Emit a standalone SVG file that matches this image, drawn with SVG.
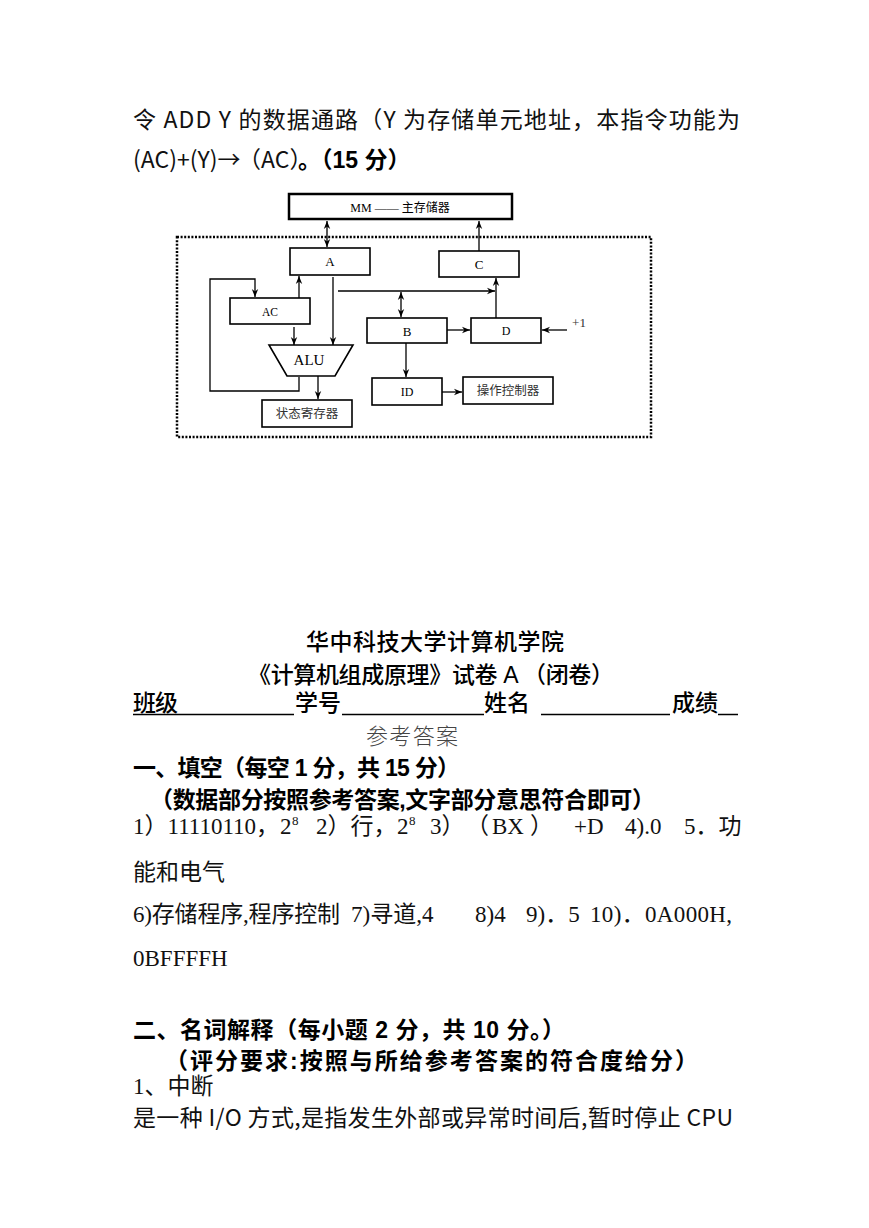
<svg xmlns="http://www.w3.org/2000/svg" width="869" height="1228" viewBox="0 0 869 1228">
<style>
.bg{fill:#fff}
.cj{font-family:"Noto Sans CJK SC",sans-serif;font-size:23px;fill:#111}
.sr{font-family:"Liberation Serif","Noto Sans CJK SC",serif;font-size:23px;fill:#111}
.sup{font-family:"Liberation Serif",serif;font-size:13px;fill:#111}
.bd{font-family:"Liberation Sans","Noto Sans CJK SC",sans-serif;font-size:23px;font-weight:bold;fill:#000}
.md{font-family:"Liberation Sans","Noto Sans CJK SC",sans-serif;font-size:23px;font-weight:500;fill:#000}
.box{fill:#fff;stroke:#000;stroke-width:1.6}
.lbl{font-family:"Liberation Serif","Noto Sans CJK SC",serif;fill:#000;text-anchor:middle}
.glbl{font-family:"Liberation Serif","Noto Sans CJK SC",serif;fill:#333;text-anchor:middle}
.c line,.c polyline{stroke:#000;stroke-width:1.3;fill:none}
.ul{stroke:#000;stroke-width:1.5}
</style>
<defs>
<marker id="ah" viewBox="0 0 10 10" refX="10" refY="5" markerWidth="8" markerHeight="8" markerUnits="userSpaceOnUse" orient="auto-start-reverse">
<path d="M0,1 L10,5 L0,9 L3,5 z" fill="#000"/>
</marker>
</defs>
<rect class="bg" x="0" y="0" width="869" height="1228"/>

<g id="question">
<text class="cj" x="133" y="128" textLength="607" lengthAdjust="spacing">令 ADD Y 的数据通路（Y 为存储单元地址，本指令功能为</text>
<text class="cj" x="133" y="168" font-size="20">(AC)+(Y)→</text>
<text class="cj" x="238" y="168" font-size="18">（AC）</text>
<text class="bd" x="298" y="168" font-size="21">。（15 分）</text>
</g>

<g id="frame">
<rect x="177" y="237" width="474" height="200" fill="none" stroke="#000" stroke-width="2.5" stroke-dasharray="2 1.6"/>
</g>

<g id="node-MM">
<rect x="289" y="194" width="223" height="25" fill="#fff" stroke="#000" stroke-width="2.5"/>
<text class="lbl" x="400" y="212" font-size="12">MM —— 主存储器</text>
</g>
<g id="node-A"><rect class="box" x="290" y="248" width="80" height="27"/><text class="lbl" x="330" y="266" font-size="13">A</text></g>
<g id="node-C"><rect class="box" x="439" y="251" width="80" height="26"/><text class="lbl" x="479" y="269" font-size="13">C</text></g>
<g id="node-AC"><rect class="box" x="230" y="298" width="80" height="26"/><text class="lbl" x="270" y="316" font-size="11.5">AC</text></g>
<g id="node-B"><rect class="box" x="367" y="318" width="80" height="25"/><text class="lbl" x="407" y="336" font-size="13">B</text></g>
<g id="node-D"><rect class="box" x="471" y="318" width="70" height="25"/><text class="lbl" x="506" y="335" font-size="12">D</text></g>
<g id="node-ALU"><polygon class="box" points="269,345 353,345 335,376 287,376"/><text class="lbl" x="309" y="365" font-size="15">ALU</text></g>
<g id="node-status"><rect class="box" x="262" y="400" width="90" height="27"/><text class="glbl" x="307" y="418" font-size="12.5">状态寄存器</text></g>
<g id="node-ID"><rect class="box" x="372" y="378" width="70" height="27"/><text class="lbl" x="407" y="396" font-size="12">ID</text></g>
<g id="node-ctrl"><rect class="box" x="463" y="377" width="90" height="27"/><text class="glbl" x="508" y="395" font-size="12.5">操作控制器</text></g>
<g id="label-plus1"><text class="glbl" x="579" y="327" font-size="13">+1</text></g>

<g id="connectors" class="c">
<line x1="327" y1="221" x2="327" y2="247" marker-start="url(#ah)" marker-end="url(#ah)"/>
<line x1="479" y1="251" x2="479" y2="221" marker-end="url(#ah)"/>
<line x1="299" y1="298" x2="299" y2="276" marker-end="url(#ah)"/>
<polyline points="299,377 299,391 210,391 210,279 255,279 255,297" marker-end="url(#ah)"/>
<line x1="294" y1="327" x2="294" y2="345" marker-end="url(#ah)"/>
<line x1="333" y1="277" x2="333" y2="345" marker-end="url(#ah)"/>
<line x1="338" y1="291" x2="495" y2="291" marker-end="url(#ah)"/>
<line x1="401" y1="292" x2="401" y2="317" marker-start="url(#ah)" marker-end="url(#ah)"/>
<line x1="496" y1="318" x2="496" y2="278" marker-end="url(#ah)"/>
<line x1="447" y1="330" x2="470" y2="330" marker-end="url(#ah)"/>
<line x1="567" y1="330" x2="542" y2="330" marker-end="url(#ah)"/>
<line x1="406" y1="343" x2="406" y2="377" marker-end="url(#ah)"/>
<line x1="442" y1="392" x2="462" y2="392" marker-end="url(#ah)"/>
<line x1="318" y1="376" x2="318" y2="399" marker-end="url(#ah)"/>
</g>

<g id="answers">
<text class="md" x="435" y="650" text-anchor="middle" textLength="258" lengthAdjust="spacing">华中科技大学计算机学院</text>
<text class="md" x="248" y="683" textLength="366" lengthAdjust="spacing">《计算机组成原理》试卷 A （闭卷）</text>
<text class="md" x="133" y="711" textLength="45" lengthAdjust="spacing">班级</text>
<text class="md" x="295" y="711" textLength="46" lengthAdjust="spacing">学号</text>
<text class="md" x="484" y="711" textLength="46" lengthAdjust="spacing">姓名</text>
<text class="md" x="672" y="711" textLength="46" lengthAdjust="spacing">成绩</text>
<line class="ul" x1="133" y1="714.5" x2="294" y2="714.5"/>
<line class="ul" x1="342" y1="714.5" x2="484" y2="714.5"/>
<line class="ul" x1="541" y1="714.5" x2="670" y2="714.5"/>
<line class="ul" x1="718" y1="714.5" x2="738" y2="714.5"/>
<text x="366" y="744" font-family="Noto Sans CJK SC,sans-serif" font-size="22" font-weight="300" fill="#444" textLength="92" lengthAdjust="spacing">参考答案</text>
<text class="bd" x="133" y="776" textLength="327" lengthAdjust="spacing">一、填空（每空 1 分，共 15 分）</text>
<text class="bd" x="150" y="808" textLength="505" lengthAdjust="spacing">（数据部分按照参考答案,文字部分意思符合即可）</text>
<text class="sr" x="133" y="834">1）11110110，</text>
<text class="sr" x="280" y="834">2</text>
<text class="sup" x="292" y="825">8</text>
<text class="sr" x="316" y="834" font-size="22">2）行，</text>
<text class="sr" x="397" y="834">2</text>
<text class="sup" x="409" y="825">8</text>
<text class="sr" x="430" y="834">3）</text>
<text class="sr" x="466" y="834">（</text>
<text class="sr" x="492" y="834">BX</text>
<text class="sr" x="530" y="834">）</text>
<text class="sr" x="574" y="834">+D</text>
<text class="sr" x="625" y="834">4).0</text>
<text class="sr" x="684" y="834">5．功</text>
<text class="sr" x="133" y="880">能和电气</text>
<text class="sr" x="133" y="922" textLength="207" lengthAdjust="spacing">6)存储程序,程序控制</text>
<text class="sr" x="351" y="922">7)寻道,4</text>
<text class="sr" x="475" y="922">8)4</text>
<text class="sr" x="526" y="922">9)．5</text>
<text class="sr" x="590" y="922" textLength="142" lengthAdjust="spacing">10)．0A000H,</text>
<text class="sr" x="133" y="966">0BFFFFH</text>
<text class="bd" x="133" y="1038" textLength="432" lengthAdjust="spacing">二、名词解释（每小题   2 分，共 10 分。）</text>
<text class="bd" x="165" y="1069" textLength="533" lengthAdjust="spacing">（评分要求:按照与所给参考答案的符合度给分）</text>
<text class="sr" x="133" y="1094">1、中断</text>
<text class="cj" x="133" y="1126" textLength="600" lengthAdjust="spacing">是一种 I/O 方式,是指发生外部或异常时间后,暂时停止 CPU</text>
</g>
</svg>
